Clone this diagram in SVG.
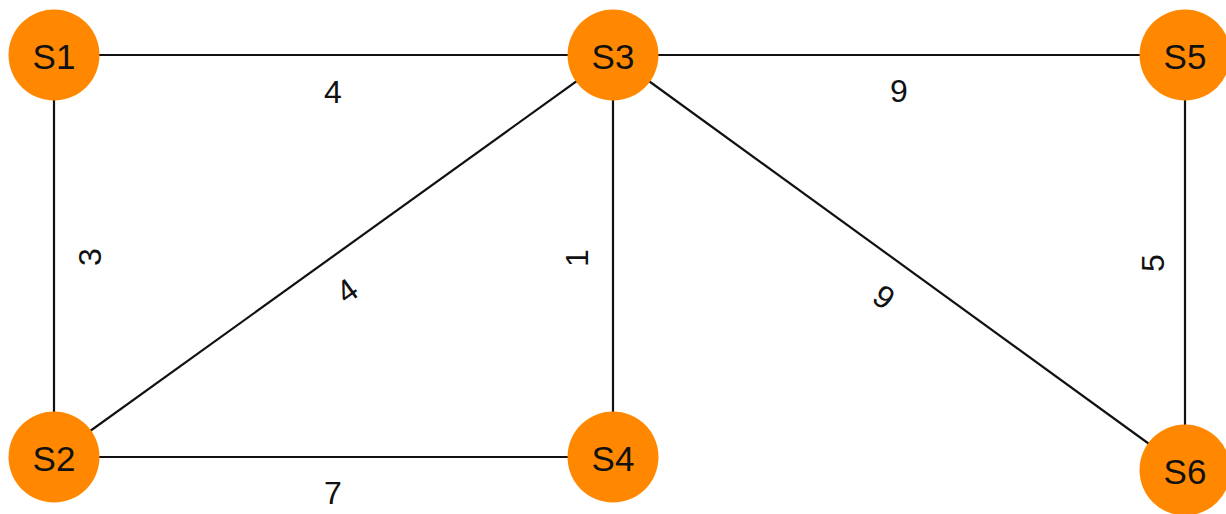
<svg xmlns="http://www.w3.org/2000/svg" width="1226" height="514" viewBox="0 0 1226 514">
  <style>
    .edge { stroke: #111; stroke-width: 2.2; fill: none; }
    .node circle { fill: #ff8800; }
    .node text { font-family: "Liberation Sans", Arial, sans-serif; font-size: 35px; fill: #111; text-anchor: middle; dominant-baseline: central; }
    .wt { font-family: "Liberation Sans", Arial, sans-serif; font-size: 32px; fill: #111; text-anchor: middle; dominant-baseline: central; }
  </style>
  <rect width="1226" height="514" fill="#ffffff"/>

  <!-- weighted edges -->
  <g id="edges">
    <line class="edge" x1="54" y1="55" x2="613" y2="55"/>
    <line class="edge" x1="613" y1="55" x2="1185" y2="55"/>
    <line class="edge" x1="54" y1="55" x2="54" y2="457"/>
    <line class="edge" x1="613" y1="55" x2="613" y2="457"/>
    <line class="edge" x1="1185" y1="55" x2="1185" y2="470"/>
    <line class="edge" x1="54" y1="457" x2="613" y2="457"/>
    <line class="edge" x1="54" y1="457" x2="613" y2="55"/>
    <line class="edge" x1="613" y1="55" x2="1185" y2="470"/>

    <text class="wt" x="333" y="92">4</text>
    <text class="wt" x="899" y="91">9</text>
    <text class="wt" x="333" y="493">7</text>
    <text class="wt" transform="translate(90,257) rotate(-90)">3</text>
    <text class="wt" transform="translate(577,258) rotate(-90)">1</text>
    <text class="wt" transform="translate(1153,263) rotate(-90)">5</text>
    <text class="wt" transform="translate(347,291) rotate(-35.7)">4</text>
    <text class="wt" transform="translate(884,297) rotate(36)">9</text>
  </g>

  <!-- vertices -->
  <g id="S1" class="node"><circle cx="54" cy="55" r="45.5"/><text x="54" y="56">S1</text></g>
  <g id="S3" class="node"><circle cx="613" cy="55" r="45.5"/><text x="613" y="56">S3</text></g>
  <g id="S5" class="node"><circle cx="1185" cy="55" r="45.5"/><text x="1185" y="56">S5</text></g>
  <g id="S2" class="node"><circle cx="54" cy="457" r="45.5"/><text x="54" y="458">S2</text></g>
  <g id="S4" class="node"><circle cx="613" cy="457" r="45.5"/><text x="613" y="458">S4</text></g>
  <g id="S6" class="node"><circle cx="1185" cy="470" r="45.5"/><text x="1185" y="471">S6</text></g>
</svg>
